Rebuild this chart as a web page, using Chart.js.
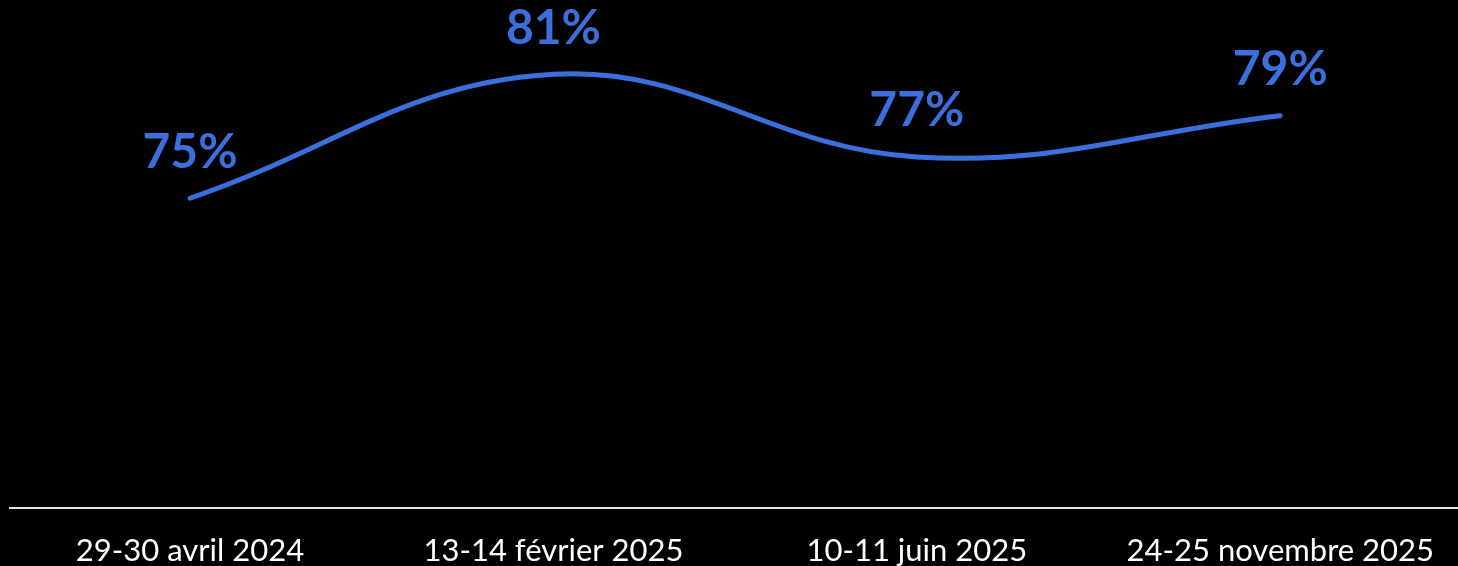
<!DOCTYPE html>
<html>
<head>
<meta charset="utf-8">
<script src="https://cdn.jsdelivr.net/npm/chart.js@4"></script>
<style>
  html, body { margin: 0; padding: 0; background: #000; }
  #wrap { width: 1458px; height: 566px; }
</style>
</head>
<body>
<div id="wrap"><canvas id="trendChart"></canvas></div>
<script>
// Données du graphique
const sessions = ['29-30 avril 2024', '13-14 février 2025', '10-11 juin 2025', '24-25 novembre 2025'];
const pourcentages = [75, 81, 77, 79];

const lineColor = '#3A6FDC';

// Étiquettes de valeur au-dessus des points
const valueLabels = {
    id: 'valueLabels',
    afterDatasetsDraw(chart) {
        const ctx = chart.ctx;
        const meta = chart.getDatasetMeta(0);
        ctx.save();
        ctx.font = 'bold 48px Lato';
        ctx.fillStyle = lineColor;
        ctx.textAlign = 'center';
        ctx.textBaseline = 'middle';
        meta.data.forEach((pt, i) => {
            ctx.fillText(pourcentages[i] + '%', pt.x, pt.y - 46);
        });
        ctx.restore();
    }
};

// Ligne de base sur toute la largeur
const baseLine = {
    id: 'baseLine',
    beforeDatasetsDraw(chart) {
        const ctx = chart.ctx;
        const y = chart.chartArea.bottom;
        ctx.save();
        ctx.strokeStyle = '#e6e6e6';
        ctx.lineWidth = 2;
        ctx.beginPath();
        ctx.moveTo(9, y);
        ctx.lineTo(chart.width, y);
        ctx.stroke();
        ctx.restore();
    }
};

new Chart(document.getElementById('trendChart'), {
    type: 'line',
    data: {
        labels: sessions,
        datasets: [{
            data: pourcentages,
            borderColor: lineColor,
            borderWidth: 5,
            borderCapStyle: 'round',
            tension: 0.4,
            pointRadius: 0,
            fill: false
        }]
    },
    options: {
        responsive: true,
        maintainAspectRatio: false,
        animation: false,
        layout: { padding: { left: 190, right: 168, top: 0, bottom: 0 } },
        plugins: {
            legend: { display: false },
            tooltip: { enabled: false }
        },
        scales: {
            y: {
                display: false,
                min: 60,
                max: 84.6
            },
            x: {
                offset: false,
                afterFit: function(scale) {
                    scale.height = 58;
                },
                border: { display: false },
                grid: { display: false, drawTicks: false },
                ticks: {
                    color: '#ffffff',
                    font: { family: 'Lato', size: 31 },
                    padding: 24,
                    maxRotation: 0,
                    autoSkip: false
                }
            }
        }
    },
    plugins: [baseLine, valueLabels]
});
</script>
</body>
</html>
